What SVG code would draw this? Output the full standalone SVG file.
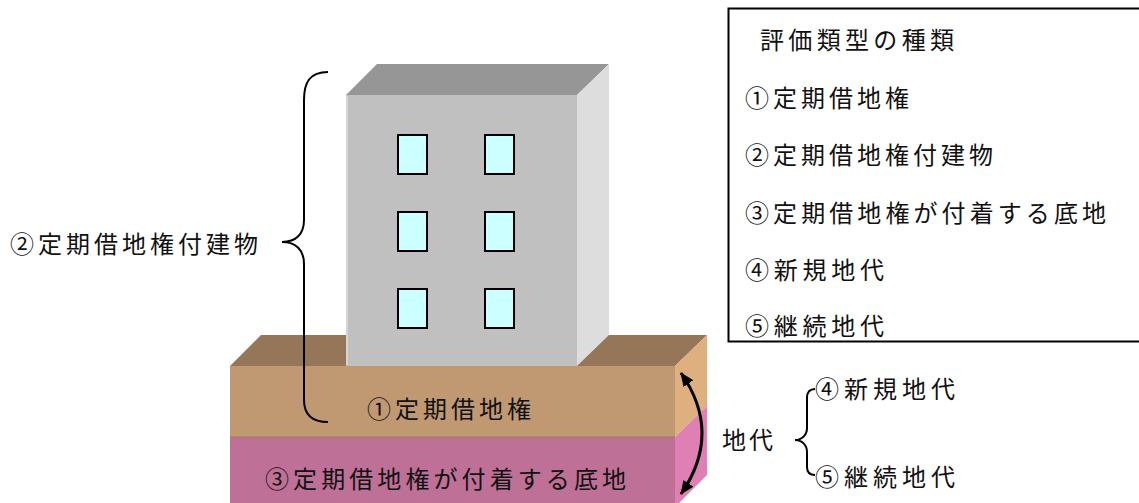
<svg xmlns="http://www.w3.org/2000/svg" width="1139" height="503" viewBox="0 0 1139 503">
  <defs>
    <style>
      .lbl { font-family: "Noto Sans CJK JP", "Noto Sans", sans-serif; font-size: 24px; fill: #111; dominant-baseline: central; }
      .win { fill: #CCFFFF; stroke: #000; stroke-width: 2; }
      .brace { fill: none; stroke: #000; stroke-width: 2; }
    </style>
    <marker id="tip" viewBox="0 0 14 12" refX="13" refY="6" markerWidth="14" markerHeight="12" markerUnits="userSpaceOnUse" orient="auto-start-reverse">
      <path d="M0,0 L14,6 L0,12 Z" fill="#000"/>
    </marker>
  </defs>

  <rect width="1139" height="503" fill="#fff"/>

  <!-- ground block: leasehold layer over the underlying land -->
  <g id="ground">
    <polygon points="230,366 261,335 707,335 675,366" fill="#967658"/>
    <rect x="230" y="366" width="445" height="71" fill="#C09872"/>
    <polygon points="675,366 707,335 707,406 675,437" fill="#DEB07F"/>
    <rect x="230" y="437" width="445" height="72" fill="#BF7096"/>
    <polygon points="675,437 707,406 707,475 675,507" fill="#DE80B3"/>
    <line x1="230" y1="437" x2="675" y2="437" stroke="#A07A5C" stroke-width="1"/>
  </g>

  <!-- building -->
  <g id="building">
    <polygon points="346,95 377,64 609,64 577,95" fill="#969696"/>
    <polygon points="577,95 609,64 609,335 577,366" fill="#DDDDDD"/>
    <rect x="346" y="95" width="231" height="271" fill="#C0C0C0"/>
    <line x1="347" y1="96" x2="347" y2="365" stroke="#D4D4D4" stroke-width="2"/>
    <rect class="win" x="398" y="135" width="29" height="39"/>
    <rect class="win" x="485" y="135" width="29" height="39"/>
    <rect class="win" x="398" y="212" width="29" height="39"/>
    <rect class="win" x="485" y="212" width="29" height="39"/>
    <rect class="win" x="398" y="289" width="29" height="39"/>
    <rect class="win" x="485" y="289" width="29" height="39"/>
  </g>

  <!-- braces and the rent arrow -->
  <g id="connectors">
    <path class="brace" d="M328,72 C310,72 304,82 304,100 L304,220 C304,234 296,242 282,242 C296,242 304,250 304,264 L304,400 C304,414 312,422 328,422"/>
    <path class="brace" d="M815,389 C810,389 807,392 807,398 L807,428 C807,435 802,440 795,440 C802,440 807,445 807,452 L807,467 C807,472 810,475 815,475"/>
    <path d="M681,373 Q723,433 681,494" fill="none" stroke="#000" stroke-width="3" marker-start="url(#tip)" marker-end="url(#tip)"/>
  </g>

  <!-- labels on the figure -->
  <g id="label-building">
    <text class="lbl" x="10" y="242" textLength="248" lengthAdjust="spacing">②定期借地権付建物</text>
  </g>
  <g id="label-leasehold">
    <text class="lbl" x="367" y="407" textLength="164" lengthAdjust="spacing">①定期借地権</text>
  </g>
  <g id="label-land">
    <text class="lbl" x="265" y="477" textLength="361" lengthAdjust="spacing">③定期借地権が付着する底地</text>
  </g>
  <g id="label-rent">
    <text class="lbl" x="722" y="438" textLength="51" lengthAdjust="spacing">地代</text>
  </g>
  <g id="label-new-rent">
    <text class="lbl" x="815" y="387" textLength="140" lengthAdjust="spacing">④新規地代</text>
  </g>
  <g id="label-renewed-rent">
    <text class="lbl" x="815" y="475" textLength="140" lengthAdjust="spacing">⑤継続地代</text>
  </g>

  <!-- legend box -->
  <g id="legend">
    <rect x="728.5" y="8.5" width="420" height="333" fill="#fff" stroke="#000" stroke-width="2"/>
    <text class="lbl" x="760" y="38" textLength="194" lengthAdjust="spacing">評価類型の種類</text>
    <text class="lbl" x="745" y="96" textLength="164" lengthAdjust="spacing">①定期借地権</text>
    <text class="lbl" x="745" y="153" textLength="248" lengthAdjust="spacing">②定期借地権付建物</text>
    <text class="lbl" x="745" y="211" textLength="361" lengthAdjust="spacing">③定期借地権が付着する底地</text>
    <text class="lbl" x="745" y="268" textLength="139" lengthAdjust="spacing">④新規地代</text>
    <text class="lbl" x="745" y="324" textLength="139" lengthAdjust="spacing">⑤継続地代</text>
  </g>
</svg>
